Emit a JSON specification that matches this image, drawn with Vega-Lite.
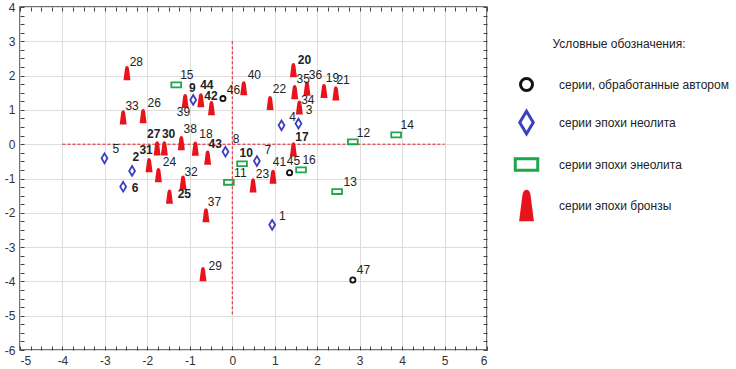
{
  "$schema": "https://vega.github.io/schema/vega-lite/v6.json",
  "width": 467,
  "height": 343,
  "autosize": {"type": "none"},
  "padding": {"left": 20, "top": 7, "right": 249, "bottom": 19},
  "background": "white",
  "config": {
    "font": "Liberation Sans",
    "view": {"stroke": "#444444", "strokeWidth": 1.5},
    "legend": {"padding": 0}
  },
  "datasets": {
    "pts": [
      {"id": "46", "series": "серии, обработанные автором", "x": -0.22, "y": 1.33, "lx": 0.03, "ly": 1.58},
      {"id": "45", "series": "серии, обработанные автором", "x": 1.35, "y": -0.83, "lx": 1.44, "ly": -0.49},
      {"id": "47", "series": "серии, обработанные автором", "x": 2.84, "y": -3.96, "lx": 3.09, "ly": -3.67},
      {"id": "5", "series": "серии эпохи неолита", "x": -3.01, "y": -0.41, "lx": -2.74, "ly": -0.13},
      {"id": "2", "series": "серии эпохи неолита", "x": -2.36, "y": -0.78, "lx": -2.27, "ly": -0.36},
      {"id": "6", "series": "серии эпохи неолита", "x": -2.57, "y": -1.24, "lx": -2.29, "ly": -1.29},
      {"id": "9", "series": "серии эпохи неолита", "x": -0.92, "y": 1.29, "lx": -0.94, "ly": 1.65},
      {"id": "8", "series": "серии эпохи неолита", "x": -0.16, "y": -0.22, "lx": 0.09, "ly": 0.15},
      {"id": "7", "series": "серии эпохи неолита", "x": 0.58, "y": -0.49, "lx": 0.84, "ly": -0.17},
      {"id": "4", "series": "серии эпохи неолита", "x": 1.16, "y": 0.55, "lx": 1.42, "ly": 0.8},
      {"id": "3", "series": "серии эпохи неолита", "x": 1.56, "y": 0.6, "lx": 1.81, "ly": 0.99},
      {"id": "1", "series": "серии эпохи неолита", "x": 0.94, "y": -2.35, "lx": 1.18, "ly": -2.09},
      {"id": "15", "series": "серии эпохи энеолита", "x": -1.32, "y": 1.73, "lx": -1.07, "ly": 2.02},
      {"id": "11", "series": "серии эпохи энеолита", "x": -0.08, "y": -1.11, "lx": 0.19, "ly": -0.85},
      {"id": "10", "series": "серии эпохи энеолита", "x": 0.23, "y": -0.57, "lx": 0.33, "ly": -0.27},
      {"id": "12", "series": "серии эпохи энеолита", "x": 2.84, "y": 0.07, "lx": 3.09, "ly": 0.32},
      {"id": "14", "series": "серии эпохи энеолита", "x": 3.86, "y": 0.27, "lx": 4.12, "ly": 0.55},
      {"id": "16", "series": "серии эпохи энеолита", "x": 1.62, "y": -0.75, "lx": 1.81, "ly": -0.47},
      {"id": "13", "series": "серии эпохи энеолита", "x": 2.47, "y": -1.38, "lx": 2.78, "ly": -1.1},
      {"id": "28", "series": "серии эпохи бронзы", "x": -2.48, "y": 2.07, "lx": -2.26, "ly": 2.4},
      {"id": "39", "series": "серии эпохи бронзы", "x": -1.11, "y": 1.26, "lx": -1.15, "ly": 0.94},
      {"id": "44", "series": "серии эпохи бронзы", "x": -0.74, "y": 1.28, "lx": -0.6, "ly": 1.73},
      {"id": "42", "series": "серии эпохи бронзы", "x": -0.49, "y": 1.05, "lx": -0.5, "ly": 1.41},
      {"id": "33", "series": "серии эпохи бронзы", "x": -2.57, "y": 0.78, "lx": -2.36, "ly": 1.1},
      {"id": "26", "series": "серии эпохи бронзы", "x": -2.1, "y": 0.82, "lx": -1.84, "ly": 1.2},
      {"id": "27", "series": "серии эпохи бронзы", "x": -1.77, "y": -0.12, "lx": -1.85, "ly": 0.31},
      {"id": "30", "series": "серии эпохи бронзы", "x": -1.6, "y": -0.12, "lx": -1.5, "ly": 0.31},
      {"id": "38", "series": "серии эпохи бронзы", "x": -1.2, "y": 0.03, "lx": -0.99, "ly": 0.44},
      {"id": "18", "series": "серии эпохи бронзы", "x": -0.87, "y": -0.13, "lx": -0.62, "ly": 0.29},
      {"id": "43", "series": "серии эпохи бронзы", "x": -0.58, "y": -0.39, "lx": -0.4, "ly": 0.0},
      {"id": "31", "series": "серии эпохи бронзы", "x": -1.96, "y": -0.61, "lx": -2.03, "ly": -0.17},
      {"id": "24", "series": "серии эпохи бронзы", "x": -1.74, "y": -0.9, "lx": -1.48, "ly": -0.52},
      {"id": "32", "series": "серии эпохи бронзы", "x": -1.16, "y": -1.12, "lx": -0.97, "ly": -0.81},
      {"id": "25", "series": "серии эпохи бронзы", "x": -1.48, "y": -1.53, "lx": -1.13, "ly": -1.46},
      {"id": "37", "series": "серии эпохи бронзы", "x": -0.62, "y": -2.07, "lx": -0.42, "ly": -1.68},
      {"id": "29", "series": "серии эпохи бронзы", "x": -0.69, "y": -3.79, "lx": -0.4, "ly": -3.55},
      {"id": "40", "series": "серии эпохи бронзы", "x": 0.27, "y": 1.63, "lx": 0.52, "ly": 2.01},
      {"id": "20", "series": "серии эпохи бронзы", "x": 1.44, "y": 2.16, "lx": 1.7, "ly": 2.46},
      {"id": "35", "series": "серии эпохи бронзы", "x": 1.47, "y": 1.52, "lx": 1.67, "ly": 1.9},
      {"id": "36", "series": "серии эпохи бронзы", "x": 1.76, "y": 1.62, "lx": 1.96, "ly": 2.02},
      {"id": "19", "series": "серии эпохи бронзы", "x": 2.16, "y": 1.55, "lx": 2.36, "ly": 1.92},
      {"id": "21", "series": "серии эпохи бронзы", "x": 2.44, "y": 1.48, "lx": 2.61, "ly": 1.87},
      {"id": "22", "series": "серии эпохи бронзы", "x": 0.89, "y": 1.2, "lx": 1.11, "ly": 1.6},
      {"id": "34", "series": "серии эпохи бронзы", "x": 1.58, "y": 1.07, "lx": 1.78, "ly": 1.29},
      {"id": "17", "series": "серии эпохи бронзы", "x": 1.44, "y": -0.15, "lx": 1.64, "ly": 0.22},
      {"id": "41", "series": "серии эпохи бронзы", "x": 0.96, "y": -0.95, "lx": 1.11, "ly": -0.52},
      {"id": "23", "series": "серии эпохи бронзы", "x": 0.49, "y": -1.2, "lx": 0.71, "ly": -0.87}
    ],
    "cross": [
      {"x": -4, "x2": 5, "y": 0, "y2": 0},
      {"x": 0, "x2": 0, "y": 3, "y2": -5}
    ]
  },
  "layer": [
    {
      "data": {"name": "cross"},
      "mark": {"type": "rule", "color": "#e8141c", "strokeWidth": 1, "strokeDash": [3, 2]},
      "encoding": {
        "x": {"field": "x", "type": "quantitative", "scale": {"domain": [-5, 6], "nice": false, "zero": false}, "axis": null},
        "x2": {"field": "x2"},
        "y": {"field": "y", "type": "quantitative", "scale": {"domain": [-6, 4], "nice": false, "zero": false}, "axis": null},
        "y2": {"field": "y2"}
      }
    },
    {
      "data": {"name": "pts"},
      "mark": {"type": "point", "opacity": 1, "size": 169, "strokeWidth": 1.8},
      "encoding": {
        "x": {
          "field": "x", "type": "quantitative",
          "axis": {
            "orient": "bottom", "title": null, "domain": false,
            "values": [-5,-4.75,-4.5,-4.25,-4,-3.75,-3.5,-3.25,-3,-2.75,-2.5,-2.25,-2,-1.75,-1.5,-1.25,-1,-0.75,-0.5,-0.25,0,0.25,0.5,0.75,1,1.25,1.5,1.75,2,2.25,2.5,2.75,3,3.25,3.5,3.75,4,4.25,4.5,4.75,5,5.25,5.5,5.75,6],
            "labelExpr": "abs(datum.value - round(datum.value)) < 0.01 ? '' + datum.value : ''",
            "labelFontSize": 12, "labelColor": "#333333", "labelPadding": 9,
            "tickSize": -4, "tickColor": "#444444", "tickWidth": 1,
            "grid": true, "gridColor": "#dddddd",
            "gridOpacity": {"condition": {"test": "abs(datum.value - round(datum.value)) > 0.01", "value": 0}, "value": 1}
          }
        },
        "y": {
          "field": "y", "type": "quantitative",
          "axis": {
            "orient": "left", "title": null, "domain": false,
            "values": [-6,-5.75,-5.5,-5.25,-5,-4.75,-4.5,-4.25,-4,-3.75,-3.5,-3.25,-3,-2.75,-2.5,-2.25,-2,-1.75,-1.5,-1.25,-1,-0.75,-0.5,-0.25,0,0.25,0.5,0.75,1,1.25,1.5,1.75,2,2.25,2.5,2.75,3,3.25,3.5,3.75,4],
            "labelExpr": "abs(datum.value - round(datum.value)) < 0.01 ? '' + datum.value : ''",
            "labelFontSize": 12, "labelColor": "#333333", "labelPadding": 9,
            "tickSize": -4, "tickColor": "#444444", "tickWidth": 1,
            "grid": true, "gridColor": "#dddddd",
            "gridOpacity": {"condition": {"test": "abs(datum.value - round(datum.value)) > 0.01", "value": 0}, "value": 1}
          }
        },
        "shape": {
          "field": "series", "type": "nominal",
          "scale": {
            "domain": ["серии, обработанные автором", "серии эпохи неолита", "серии эпохи энеолита", "серии эпохи бронзы"],
            "range": [
              "M0.4,0 A0.4,0.4 0 1,1 -0.4,0 A0.4,0.4 0 1,1 0.4,0 Z",
              "M0,-0.75 L0.45,0 L0,0.75 L-0.45,0 Z",
              "M-0.75,-0.38 L0.75,-0.38 L0.75,0.38 L-0.75,0.38 Z",
              "M0,-0.95 C0.1,-0.95 0.14,-0.85 0.17,-0.7 L0.38,0.95 L-0.38,0.95 L-0.17,-0.7 C-0.14,-0.85 -0.1,-0.95 0,-0.95 Z"
            ]
          },
          "legend": {
            "title": "Условные обозначения:",
            "orient": "none", "legendX": 490, "legendY": 32,
            "titleFontSize": 12, "titleFontWeight": "normal", "titleColor": "#222222", "titleAnchor": "middle", "titlePadding": 17,
            "labelFontSize": 12, "labelColor": "#222222", "labelOffset": 16, "labelLimit": 300,
            "symbolSize": 900, "symbolStrokeWidth": 3, "rowPadding": 8
          }
        },
        "fill": {
          "field": "series", "type": "nominal",
          "scale": {
            "domain": ["серии, обработанные автором", "серии эпохи неолита", "серии эпохи энеолита", "серии эпохи бронзы"],
            "range": ["transparent", "transparent", "transparent", "#e8141c"]
          },
          "legend": {"title": "Условные обозначения:"}
        },
        "stroke": {
          "field": "series", "type": "nominal",
          "scale": {
            "domain": ["серии, обработанные автором", "серии эпохи неолита", "серии эпохи энеолита", "серии эпохи бронзы"],
            "range": ["#111111", "#3a40c0", "#1ea64b", "#e8141c"]
          },
          "legend": {"title": "Условные обозначения:"}
        }
      }
    },
    {
      "data": {"name": "pts"},
      "mark": {
        "type": "text", "fontSize": 12, "color": "#222222", "align": "center", "baseline": "middle",
        "fontWeight": {"expr": "indexof(['2','6','25','27','30','31','17','10','44','42','20','43','9'], datum.id) >= 0 ? 'bold' : 'normal'"}
      },
      "encoding": {
        "x": {
          "field": "lx", "type": "quantitative",
          "axis": {
            "orient": "top", "title": null, "domain": false, "labels": false, "grid": false,
            "values": [-5,-4.75,-4.5,-4.25,-4,-3.75,-3.5,-3.25,-3,-2.75,-2.5,-2.25,-2,-1.75,-1.5,-1.25,-1,-0.75,-0.5,-0.25,0,0.25,0.5,0.75,1,1.25,1.5,1.75,2,2.25,2.5,2.75,3,3.25,3.5,3.75,4,4.25,4.5,4.75,5,5.25,5.5,5.75,6],
            "tickSize": -4, "tickColor": "#444444", "tickWidth": 1
          }
        },
        "y": {
          "field": "ly", "type": "quantitative",
          "axis": {
            "orient": "right", "title": null, "domain": false, "labels": false, "grid": false,
            "values": [-6,-5.75,-5.5,-5.25,-5,-4.75,-4.5,-4.25,-4,-3.75,-3.5,-3.25,-3,-2.75,-2.5,-2.25,-2,-1.75,-1.5,-1.25,-1,-0.75,-0.5,-0.25,0,0.25,0.5,0.75,1,1.25,1.5,1.75,2,2.25,2.5,2.75,3,3.25,3.5,3.75,4],
            "tickSize": -4, "tickColor": "#444444", "tickWidth": 1
          }
        },
        "text": {"field": "id"}
      }
    }
  ],
  "resolve": {"axis": {"x": "independent", "y": "independent"}}
}
